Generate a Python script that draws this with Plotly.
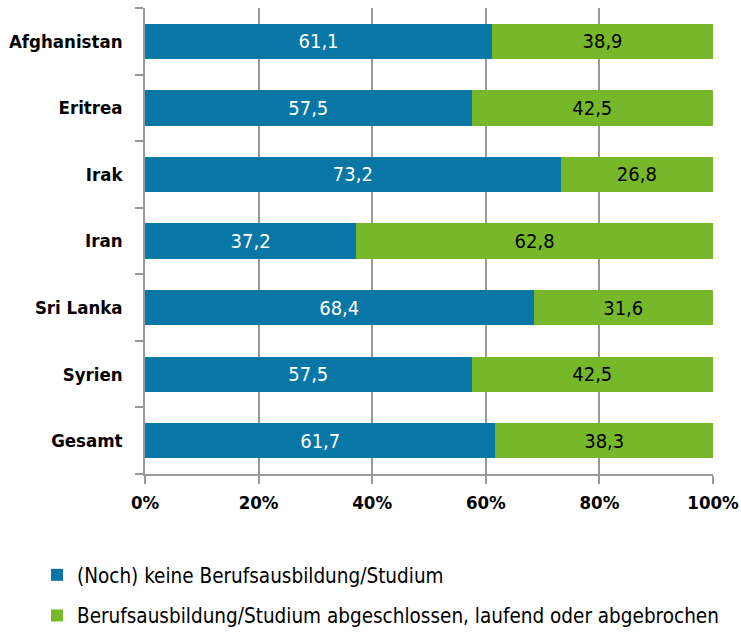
import plotly.graph_objects as go

categories = ["Afghanistan", "Eritrea", "Irak", "Iran", "Sri Lanka", "Syrien", "Gesamt"]
keine = [61.1, 57.5, 73.2, 37.2, 68.4, 57.5, 61.7]
abgeschlossen = [38.9, 42.5, 26.8, 62.8, 31.6, 42.5, 38.3]
x_ticks = [0, 20, 40, 60, 80, 100]
x_tick_labels = ["0%", "20%", "40%", "60%", "80%", "100%"]

BLUE = "#0877A5"
GREEN = "#76B82A"
FONT = "DejaVu Sans Condensed, sans-serif"

def fmt(v):
    return f"{v:.1f}".replace(".", ",")

fig = go.Figure()
fig.add_trace(go.Bar(
    y=categories, x=keine, orientation="h", name="(Noch) keine Berufsausbildung/Studium",
    marker=dict(color=BLUE, line=dict(width=0)),
    text=[fmt(v) for v in keine], textposition="inside", insidetextanchor="middle",
    textfont=dict(color="white", size=20, family=FONT), legendgroup="a",
))
fig.add_trace(go.Bar(
    y=categories, x=abgeschlossen, orientation="h",
    name="Berufsausbildung/Studium abgeschlossen, laufend oder abgebrochen",
    marker=dict(color=GREEN, line=dict(width=0)),
    text=[fmt(v) for v in abgeschlossen], textposition="inside", insidetextanchor="middle",
    textfont=dict(color="black", size=20, family=FONT), legendgroup="b",
))

fig.update_layout(
    barmode="stack", bargap=0.47,
    width=741, height=632,
    margin=dict(l=145, r=28, t=8, b=158, autoexpand=False),
    paper_bgcolor="white", plot_bgcolor="white",
    font=dict(family=FONT, size=16, color="black"),
    uniformtext=dict(mode="show", minsize=10),
    legend=dict(orientation="v", xref="container", yref="container",
                x=37 / 741, xanchor="left", y=1 - 555 / 632, yanchor="top",
                font=dict(size=20.5, family=FONT), tracegroupgap=11, itemwidth=30),
    xaxis=dict(range=[0, 100], tickvals=x_ticks, ticktext=x_tick_labels,
               showgrid=True, gridcolor="#999999", gridwidth=1.5,
               showline=True, linecolor="#999999", linewidth=1.5,
               ticks="outside", ticklen=8, tickcolor="#999999", tickwidth=1.5,
               ticklabelstandoff=3,
               tickfont=dict(size=18.5, family=FONT, color="black", weight="bold"),
               zeroline=False, fixedrange=True),
    yaxis=dict(categoryorder="array", categoryarray=categories[::-1],
               showline=True, linecolor="#999999", linewidth=1.5,
               ticks="outside", ticklen=8, tickcolor="#999999", tickwidth=1.5,
               tickson="boundaries",
               tickfont=dict(size=18.5, family=FONT, color="black", weight="bold"),
               ticklabelstandoff=17, showgrid=False, fixedrange=True),
)

fig.write_html("out.html", config={"displayModeBar": False},
               post_script="document.body.style.margin='0';document.body.style.padding='0';")
